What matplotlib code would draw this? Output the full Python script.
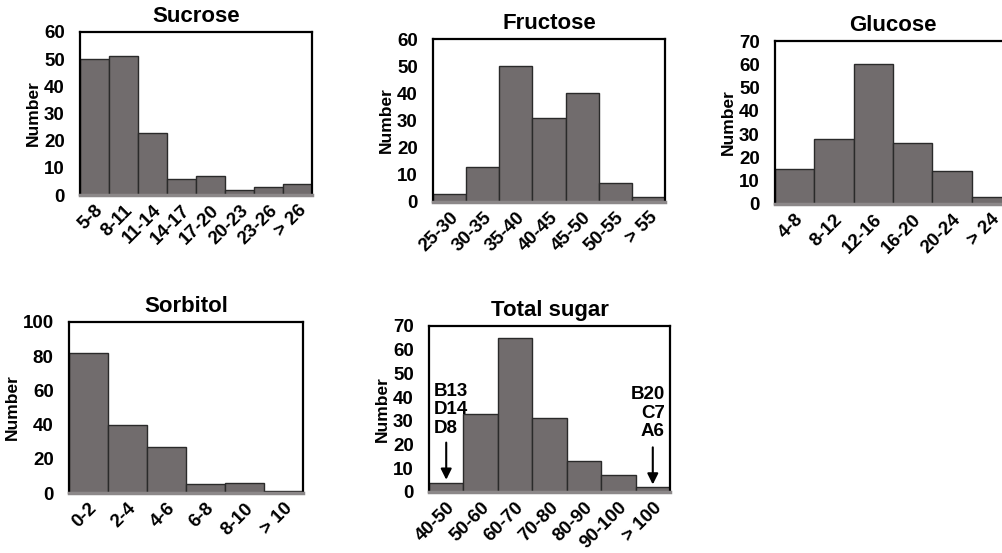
import matplotlib
matplotlib.use('Agg')
import matplotlib.pyplot as plt
import numpy as np

plt.rcParams['font.family'] = ['Liberation Sans', 'DejaVu Sans']
plt.rcParams['font.weight'] = 'bold'

# counts per concentration class
sucrose_bins = ['5-8', '8-11', '11-14', '14-17', '17-20', '20-23', '23-26', '> 26']
sucrose_n = [50, 51, 23, 6, 7, 2, 3, 4]

fructose_bins = ['25-30', '30-35', '35-40', '40-45', '45-50', '50-55', '> 55']
fructose_n = [3, 13, 50, 31, 40, 7, 2]

glucose_bins = ['4-8', '8-12', '12-16', '16-20', '20-24', '> 24']
glucose_n = [15, 28, 60, 26, 14, 3]

sorbitol_bins = ['0-2', '2-4', '4-6', '6-8', '8-10', '> 10']
sorbitol_n = [82, 40, 27, 5, 6, 1]

total_bins = ['40-50', '50-60', '60-70', '70-80', '80-90', '90-100', '> 100']
total_n = [4, 33, 65, 31, 13, 7, 2]

low_samples = ['B13', 'D14', 'D8']
high_samples = ['B20', 'C7', 'A6']

W, H = 1003, 553
fig = plt.figure(figsize=(W / 100, H / 100), dpi=100)


def make_ax(left, right, top, bottom):
    return fig.add_axes([left / W, 1 - bottom / H, (right - left) / W, (bottom - top) / H])


def hist_panel(ax, title, bins, counts, ymax, ystep):
    x = np.arange(len(bins))
    ax.bar(x, counts, width=1.0, color='#716c6d', edgecolor='#2a2a2a', linewidth=1.0)
    ax.set_xlim(-0.5, len(bins) - 0.5)
    ax.set_ylim(0, ymax)
    ax.set_yticks(np.arange(0, ymax + 1, ystep))
    ax.set_xticks(x)
    ax.set_xticklabels(bins, rotation=45, ha='right', rotation_mode='anchor')
    ax.tick_params(length=0, labelsize=13.5)
    ax.tick_params(axis='y', pad=11)
    ax.tick_params(axis='x', pad=5)
    for s in ['left', 'top', 'right']:
        ax.spines[s].set_linewidth(1.6)
        ax.spines[s].set_color('black')
    ax.spines['bottom'].set_linewidth(2.5)
    ax.spines['bottom'].set_color('#8c8889')
    ax.set_ylabel('Number', fontsize=12.5, fontweight='bold', labelpad=2)
    ax.set_title(title, fontsize=16, fontweight='bold', pad=7)


ax1 = make_ax(80, 312, 32, 195)
hist_panel(ax1, 'Sucrose', sucrose_bins, sucrose_n, 60, 10)

ax2 = make_ax(433, 665, 39, 202)
hist_panel(ax2, 'Fructose', fructose_bins, fructose_n, 60, 10)

ax3 = make_ax(775, 1011, 41, 204)
hist_panel(ax3, 'Glucose', glucose_bins, glucose_n, 70, 10)

ax4 = make_ax(69, 303, 322, 493)
hist_panel(ax4, 'Sorbitol', sorbitol_bins, sorbitol_n, 100, 20)

ax5 = make_ax(429, 670, 326, 492)
hist_panel(ax5, 'Total sugar', total_bins, total_n, 70, 10)

# flag the extreme cultivars in the total sugar panel
arrow = dict(arrowstyle='-|>', color='black', lw=1.5, mutation_scale=16)
ax5.text(-0.36, 46, '\n'.join(low_samples), ha='left', va='top',
         fontsize=13.5, fontweight='bold', linespacing=1.1)
ax5.annotate('', xy=(0, total_n[0]), xytext=(0, 22), arrowprops=arrow)
ax5.text(6.35, 44.5, '\n'.join(high_samples), ha='right', va='top',
         fontsize=13.5, fontweight='bold', linespacing=1.1, multialignment='right')
ax5.annotate('', xy=(6, total_n[-1]), xytext=(6, 20), arrowprops=arrow)

fig.savefig('out.png', dpi=100)
